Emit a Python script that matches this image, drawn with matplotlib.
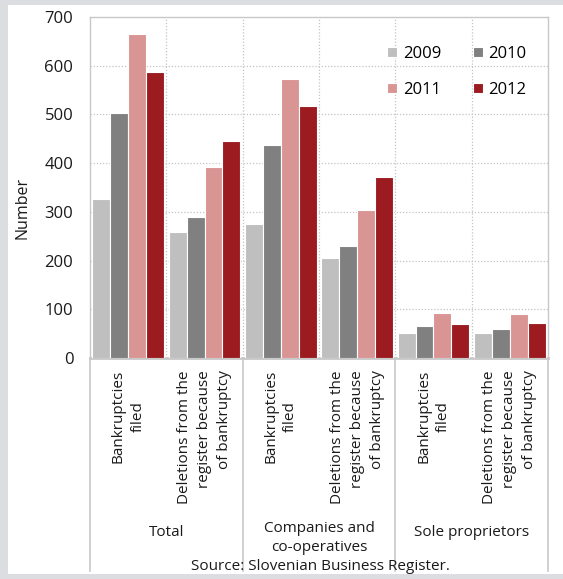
import matplotlib.pyplot as plt
import numpy as np
from matplotlib.patches import Rectangle

plt.rcParams['font.family'] = ['Open Sans', 'DejaVu Sans']

# data
groups = ['Total', 'Companies and\nco-operatives', 'Sole proprietors']
measures = ['Bankruptcies\nfiled', 'Deletions from the\nregister because\nof bankruptcy']
years = ['2009', '2010', '2011', '2012']
colors = ['#bfbfbf', '#808080', '#d99594', '#9b1b20']

v2009 = [326, 259, 275, 206, 51, 51]
v2010 = [503, 290, 437, 230, 66, 60]
v2011 = [665, 392, 573, 304, 92, 90]
v2012 = [587, 446, 517, 372, 70, 72]
series = [v2009, v2010, v2011, v2012]

W, H = 563, 579
fig = plt.figure(figsize=(W / 100, H / 100), dpi=100)
fig.patch.set_facecolor('#dcdde0')
fig.patches.append(Rectangle((8 / W, 5 / H), 1, (574 - 5) / H, transform=fig.transFigure,
                             facecolor='white', edgecolor='none', zorder=-10))

ax = fig.add_axes([90 / W, (H - 358) / H, (548 - 90) / W, (358 - 17) / H])
ax.set_facecolor('white')

x = np.arange(6)
bw = 0.235
for i, (vals, c, yr) in enumerate(zip(series, colors, years)):
    ax.bar(x + (i - 1.5) * bw, vals, width=bw, color=c, edgecolor='white',
           linewidth=0.8, label=yr, zorder=3)

ax.set_xlim(-0.5, 5.5)
ax.set_ylim(0, 700)
ax.set_yticks(range(0, 701, 100))
ax.set_xticks([])
ax.tick_params(axis='y', length=0, pad=12, labelsize=12, labelcolor='#1a1a1a')

# dotted grid
for yv in range(100, 700, 100):
    ax.axhline(yv, color='#c4c4c4', lw=0.9, ls=(0, (1, 1.5)), zorder=1)
for xv in np.arange(0.5, 5, 1):
    ax.axvline(xv, color='#c4c4c4', lw=0.9, ls=(0, (1, 1.5)), zorder=1)

for s in ['top', 'left', 'right']:
    ax.spines[s].set_color('#c8c8c8')
    ax.spines[s].set_linewidth(1.0)
ax.spines['bottom'].set_color('#c8c8c8')
ax.spines['bottom'].set_linewidth(2.0)

ax.set_ylabel('Number', fontsize=11.5, color='#1a1a1a')
ax.yaxis.set_label_coords(-59 / 458, (358 - 208) / 341)

# separators between groups below the axis
xt = ax.get_xaxis_transform()
for xv in [-0.5, 1.5, 3.5, 5.5]:
    ax.plot([xv, xv], [0, -(571 - 358) / 341], transform=xt, color='#c8c8c8',
            lw=1.2, clip_on=False, zorder=2)

# category labels
for i in range(6):
    m = i % 2
    ax.text(i, -12 / 341, measures[m], transform=xt, rotation=90, ha='center',
            va='top', multialignment='center' if m == 0 else 'right',
            fontsize=11, color='#1a1a1a', linespacing=1.45)

for g, name in enumerate(groups):
    ax.text(2 * g + 0.5, -(538 - 358) / 341 if '\n' in name else -(533 - 358) / 341,
            name, transform=xt, ha='center', va='center', fontsize=11,
            color='#1a1a1a', linespacing=1.3)

fig.text(320 / W, (H - 567) / H, 'Source: Slovenian Business Register.',
         ha='center', va='center', fontsize=11, color='#1a1a1a')

# legend, two columns, 2009/2010 on the first row
h, l = ax.get_legend_handles_labels()
order = [0, 2, 1, 3]
ax.legend([h[k] for k in order], [l[k] for k in order], ncol=2, frameon=False,
          loc='upper left', bbox_to_anchor=(387 / W, (H - 46) / H),
          bbox_transform=fig.transFigure, borderpad=0, borderaxespad=0,
          handlelength=0.6, handleheight=0.6, handletextpad=0.35,
          columnspacing=1.9, labelspacing=1.2, fontsize=12)

fig.savefig('out.png', dpi=100, facecolor=fig.get_facecolor())
